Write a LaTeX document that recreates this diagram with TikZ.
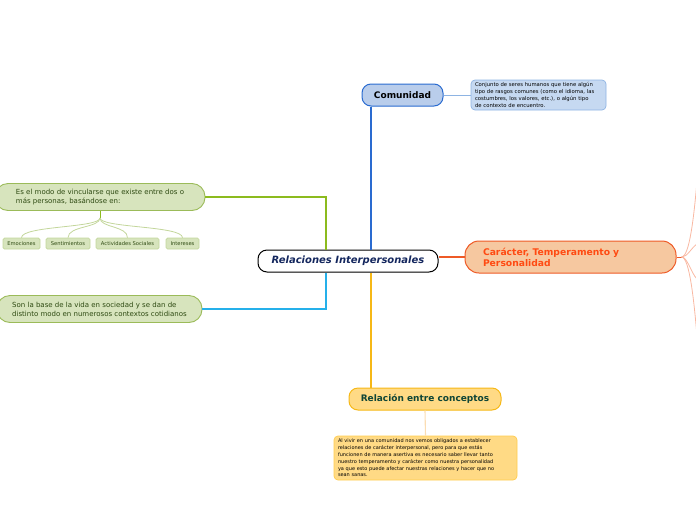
\documentclass[tikz,border=0pt]{standalone}
\usepackage{xcolor}
\usepackage{fontspec}
\setmainfont{DejaVu Sans}
\usepackage{tikz}
\usetikzlibrary{arrows.meta,positioning,calc}
\definecolor{navy}{HTML}{14275E}
\definecolor{sea}{HTML}{2A6BD0}
\definecolor{seapale}{HTML}{B9CDEB}
\definecolor{mist}{HTML}{C6D9F1}
\definecolor{mistline}{HTML}{8EB4E3}
\definecolor{moss}{HTML}{D7E4BD}
\definecolor{mossline}{HTML}{9BBB59}
\definecolor{mossink}{HTML}{2E4A12}
\definecolor{grass}{HTML}{8CBB1E}
\definecolor{twig}{HTML}{C3D69B}
\definecolor{azure}{HTML}{25B0EA}
\definecolor{rust}{HTML}{EE5A26}
\definecolor{rustink}{HTML}{FF4A12}
\definecolor{peach}{HTML}{F6C8A0}
\definecolor{salmon}{HTML}{F9B8A2}
\definecolor{gold}{HTML}{F6B817}
\definecolor{honey}{HTML}{FFDA85}
\definecolor{honeyline}{HTML}{FFCC4D}
\definecolor{cream}{HTML}{FBDDB3}
\definecolor{pine}{HTML}{0F4536}

\tikzset{
  topic/.style={rounded corners=9pt,line width=1pt,inner sep=0pt,
    font=\fontsize{9}{11}\selectfont\bfseries},
  memo/.style={rounded corners=4pt,line width=0.7pt,inner xsep=4pt,inner ysep=0pt,
    align=left,font=\fontsize{5.3}{6.9}\selectfont},
  bough/.style={rounded corners=13pt,fill=moss,draw=mossline,line width=0.9pt,
    inner ysep=0pt,align=left,text=mossink,font=\fontsize{7}{9}\selectfont},
  leaf/.style={rounded corners=1.5pt,fill=moss,draw=twig,line width=0.7pt,
    inner sep=0pt,minimum height=11pt,text=mossink,font=\fontsize{5.2}{6}\selectfont},
  link/.style={line width=1.6pt},
}

\begin{document}
\begin{tikzpicture}[>=Latex,x=1pt,y=-1pt]
  \useasboundingbox (0,0) rectangle (696,520);

  \node[topic,draw=black,fill=white,text=navy,minimum width=180pt,minimum height=22pt,
    font=\fontsize{10}{12}\selectfont\bfseries\itshape] (rel) at (348,261) {Relaciones Interpersonales};

  \node[topic,draw=sea,fill=seapale,text=black,minimum width=81pt,minimum height=22pt] (com) at (402.5,95) {Comunidad};
  \node[memo,draw=mistline,fill=mist,text width=127pt,minimum height=30pt] (comnote) at (538.5,95)
    {Conjunto de seres humanos que tiene algún\\tipo de rasgos comunes (como el idioma, las\\costumbres, los valores, etc.), o algún tipo\\de contexto de encuentro.};

  \node[bough,minimum width=210pt,minimum height=27pt] (modo) at (100,197)
    {Es el modo de vincularse que existe entre dos o\\más personas, basándose en:};
  \node[leaf,minimum width=37pt] (emo) at (21.5,243.5) {Emociones};
  \node[leaf,minimum width=44pt] (sen) at (68,243.5) {Sentimientos};
  \node[leaf,minimum width=63pt] (act) at (127.5,243.5) {Actividades Sociales};
  \node[leaf,minimum width=33pt] (inte) at (182.5,243.5) {Intereses};

  \node[bough,minimum width=205pt,minimum height=27pt] (base) at (99.5,309)
    {Son la base de la vida en sociedad y se dan de\\distinto modo en numerosos contextos cotidianos};

  \node[topic,rounded corners=14pt,draw=rust,fill=peach,text=rustink,minimum width=211pt,minimum height=32pt,
    inner xsep=18pt,text width=175pt,align=left,font=\fontsize{9.2}{11}\selectfont\bfseries] (car) at (570.5,257)
    {Carácter, Temperamento y\\Personalidad};

  \node[topic,draw=gold,fill=honey,text=pine,minimum width=152pt,minimum height=22pt] (conc) at (425,399) {Relación entre conceptos};
  \node[memo,draw=honeyline,fill=honey,text width=175pt,minimum height=44pt,
    font=\fontsize{5}{6.8}\selectfont] (concnote) at (425.5,458)
    {Al vivir en una comunidad nos vemos obligados a establecer\\relaciones de carácter interpersonal, pero para que estás\\funcionen de manera asertiva es necesario saber llevar tanto\\nuestro temperamento y carácter como nuestra personalidad\\ya que esto puede afectar nuestras relaciones y hacer que no\\sean sanas.};

  \draw[link,sea] ([xshift=-31.5pt]com.south) -- ([xshift=-31.5pt]com.south |- rel.north);
  \draw[mistline,line width=0.9pt] (com.east) -- (comnote.west);
  \draw[link,grass] (modo.east) -| ([xshift=68.5pt]rel.north west);
  \draw[link,azure] (base.east) -| ([xshift=68.5pt]rel.south west);
  \draw[link,rust] (car.west -| rel.east) -- (car.west);
  \draw[link,gold] ([xshift=-54pt]conc.north) -- ([xshift=-54pt]conc.north |- rel.south);
  \draw[cream,line width=1.1pt] (conc.south) -- (concnote.north);

  \coordinate (gfork) at ([yshift=-7pt]modo.south);
  \draw[grass,line width=1pt] (modo.south) -- (gfork);
  \foreach \t in {emo,sen,act,inte}
    \draw[twig,line width=0.8pt] (gfork) .. controls ($(gfork)+(0,10)$) and ($(\t.north)+(0,-12)$) .. (\t.north);

  \coordinate (ofork) at ([xshift=5pt]car.east);
  \coordinate (oa) at (697,181);
  \coordinate (ob) at (697,244);
  \coordinate (oc) at (697,279);
  \coordinate (od) at (697,336);
  \draw[rust,line width=1pt] (car.east) -- (ofork);
  \draw[salmon,line width=0.8pt] (ofork) .. controls ($(ofork)+(8,0)$) and ($(oa)+(-3,35)$) .. (oa);
  \draw[salmon,line width=0.8pt] (ofork) .. controls ($(ofork)+(6,0)$) and ($(ob)+(-6,4)$) .. (ob);
  \draw[salmon,line width=0.8pt] (ofork) .. controls ($(ofork)+(6,0)$) and ($(oc)+(-6,-6)$) .. (oc);
  \draw[salmon,line width=0.8pt] (ofork) .. controls ($(ofork)+(8,0)$) and ($(od)+(-3,-35)$) .. (od);
\end{tikzpicture}
\end{document}
